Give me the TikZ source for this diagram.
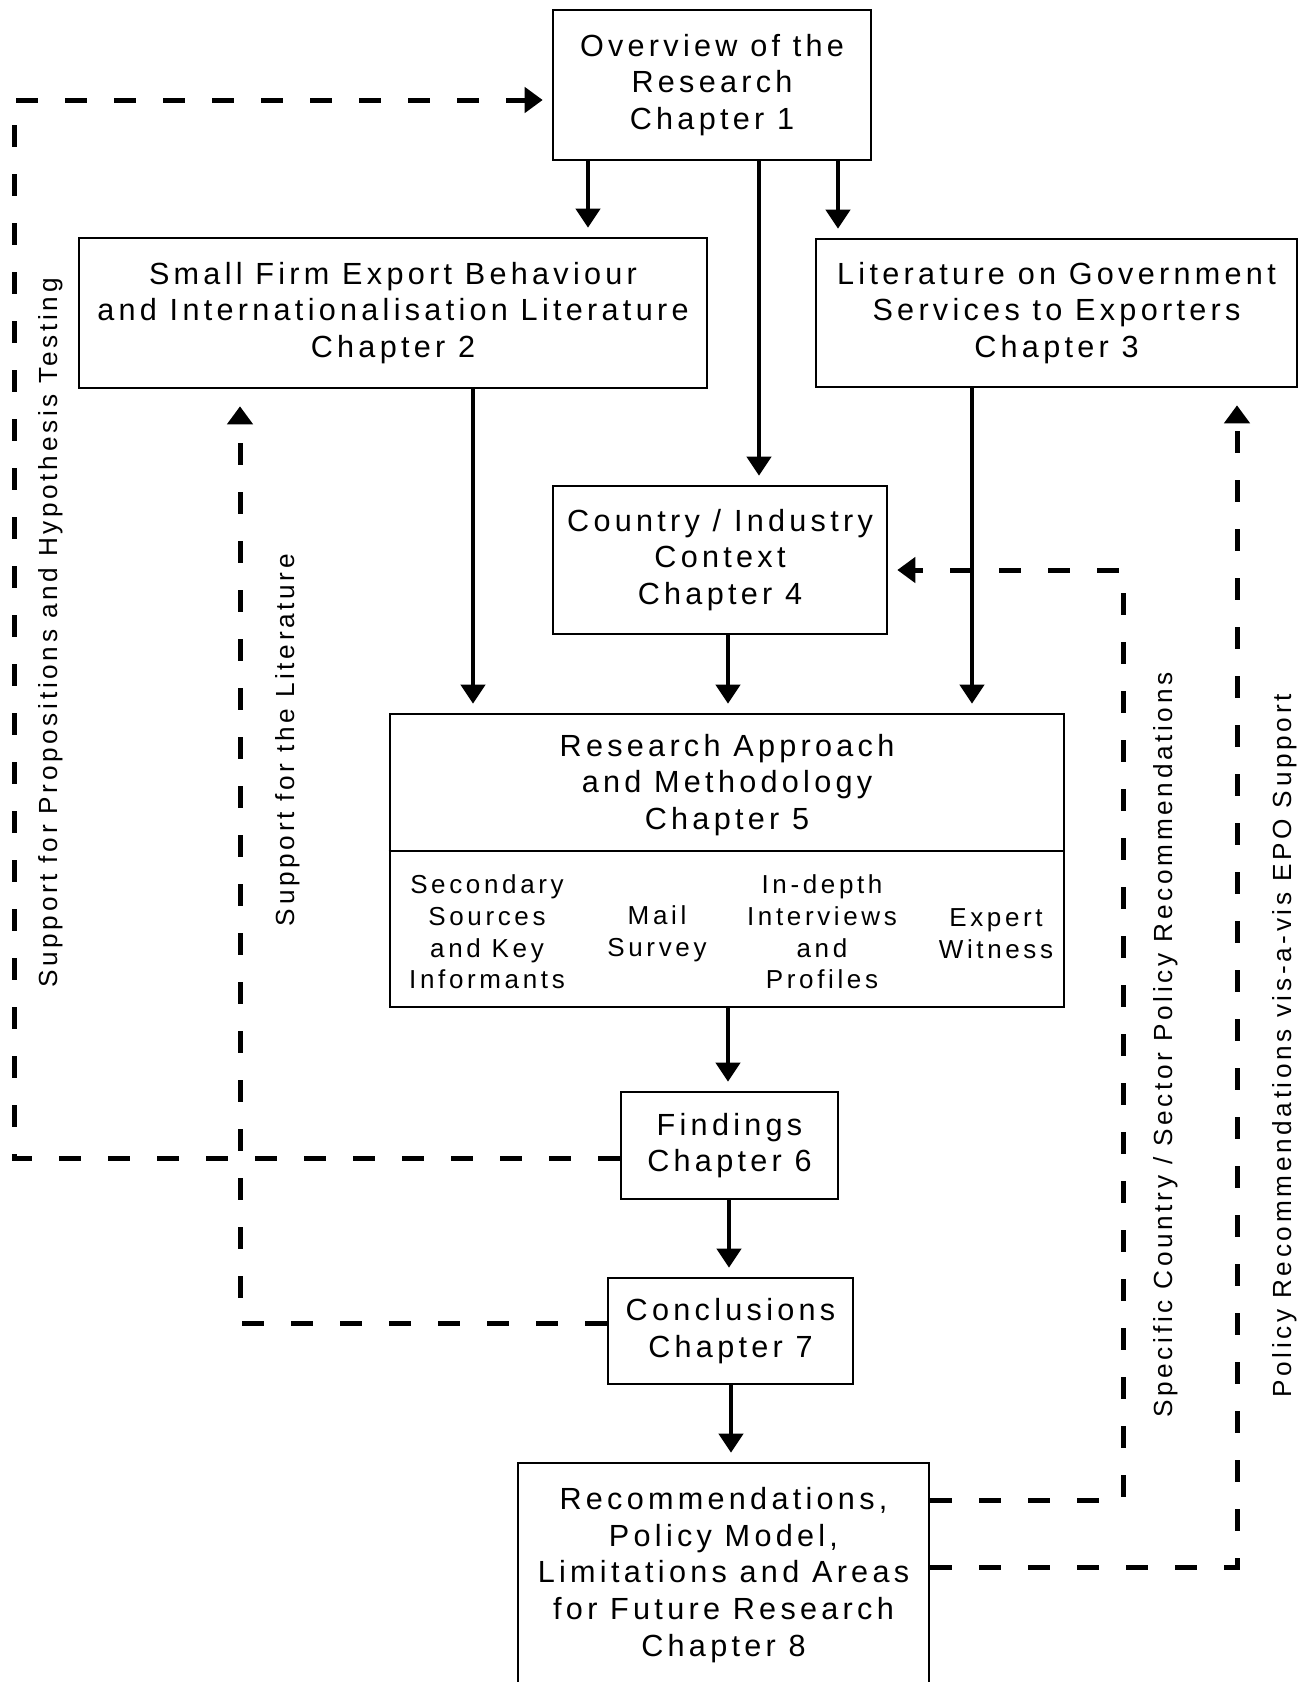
\documentclass[tikz,border=0pt]{standalone}
\usepackage{fontspec}
\setmainfont{Liberation Sans}[LetterSpace=14]
\usetikzlibrary{arrows.meta}

% text sizes used in the chart
\newcommand\boxtext{\fontsize{15.3}{18.3}\selectfont}
\newcommand\subtext{\fontsize{13}{15.85}\selectfont}
\newcommand\sidetext{\fontsize{13.1}{15}\selectfont}

\begin{document}
\begin{tikzpicture}[x=0.5pt,y=-0.5pt,
  box/.style={draw, line width=1.3pt, inner sep=0pt, align=center, font=\boxtext},
  plain/.style={inner sep=0pt, align=center},
  side/.style={inner sep=0pt, rotate=90, font=\sidetext},
  arr/.style={line width=2pt, -{Triangle[width=12pt,length=9.5pt]}, shorten >=4.5pt},
  darr/.style={line width=2.5pt, dash pattern=on 11pt off 13.5pt,
               -{Triangle[width=12.5pt,length=9pt]}, shorten >=4.5pt}]
\useasboundingbox (0,0) rectangle (1302,1682);
\clip (0,0) rectangle (1302,1682);

% chapter boxes
\node[box, minimum width=159pt, minimum height=75pt] (b1) at (712,85)
  {Overview of the\\Research\\Chapter 1};
\node[box, minimum width=314pt, minimum height=75pt] (b2) at (393,313)
  {Small Firm Export Behaviour\\and Internationalisation Literature\\Chapter 2};
\node[box, minimum width=240.5pt, minimum height=74pt] (b3) at (1056.5,313)
  {Literature on Government\\Services to Exporters\\Chapter 3};
\node[box, minimum width=167pt, minimum height=74pt] (b4) at (720,560)
  {Country / Industry\\Context\\Chapter 4};

% methodology box with its four research methods
\node[box, minimum width=337pt, minimum height=146.5pt] (b5) at (727,860.5) {};
\draw[line width=1.3pt] (b5.west |- 0,851) -- (b5.east |- 0,851);
\node[plain, font=\boxtext] (t5) at (727,785) {Research Approach\\and Methodology\\Chapter 5};
\node[plain, font=\subtext] (m1) at (487,932) {Secondary\\Sources\\and Key\\Informants};
\node[plain, font=\subtext] (m2) at (657,934) {Mail\\Survey};
\node[plain, font=\subtext] (m3) at (822,932) {In-depth\\Interviews\\and\\Profiles};
\node[plain, font=\subtext] (m4) at (996,934) {Expert\\Witness};

\node[box, minimum width=108.5pt, minimum height=53.5pt] (b6) at (729.5,1145.5)
  {Findings\\Chapter 6};
\node[box, minimum width=122.5pt, minimum height=53pt] (b7) at (730.5,1331)
  {Conclusions\\Chapter 7};
\node[box, minimum width=205.5pt, minimum height=112pt] (b8) at (723.5,1575)
  {Recommendations,\\Policy Model,\\Limitations and Areas\\for Future Research\\Chapter 8};

% main flow
\draw[arr] (b1.south -| 588,0) -- (b2.north -| 588,0);
\draw[arr] (b1.south -| 838,0) -- (b3.north -| 838,0);
\draw[arr] (b1.south -| 759,0) -- (b4.north -| 759,0);
\draw[arr] (b2.south -| 473,0) -- (b5.north -| 473,0);
\draw[arr] (b4.south -| 728,0) -- (b5.north -| 728,0);
\draw[arr] (b3.south -| 972,0) -- (b5.north -| 972,0);
\draw[arr] (b5.south -| 728,0) -- (b6.north -| 728,0);
\draw[arr] (b6.south -| 729,0) -- (b7.north -| 729,0);
\draw[arr] (b7.south -| 731,0) -- (b8.north -| 731,0);

% feedback loops
\draw[darr] (b6.west |- 0,1158) -| (14,100) -- (b1.west |- 0,100);
\draw[darr, shorten >=8.5pt] (b7.west |- 0,1323) -| (b2.south -| 240,0);
\draw[darr] (b8.east |- 0,1500) -| (1123,570) -- (b4.east |- 0,570);
\draw[darr, shorten >=8.5pt] (b8.east |- 0,1567) -| (b3.south -| 1237,0);

% loop labels
\node[side] (l1) at (51,633) {Support for Propositions and Hypothesis Testing};
\node[side] (l2) at (288,740) {Support for the Literature};
\node[side] (l3) at (1166,1045) {Specific Country / Sector Policy Recommendations};
\node[side] (l4) at (1285,1046) {Policy Recommendations vis-a-vis EPO Support};
\end{tikzpicture}
\end{document}
